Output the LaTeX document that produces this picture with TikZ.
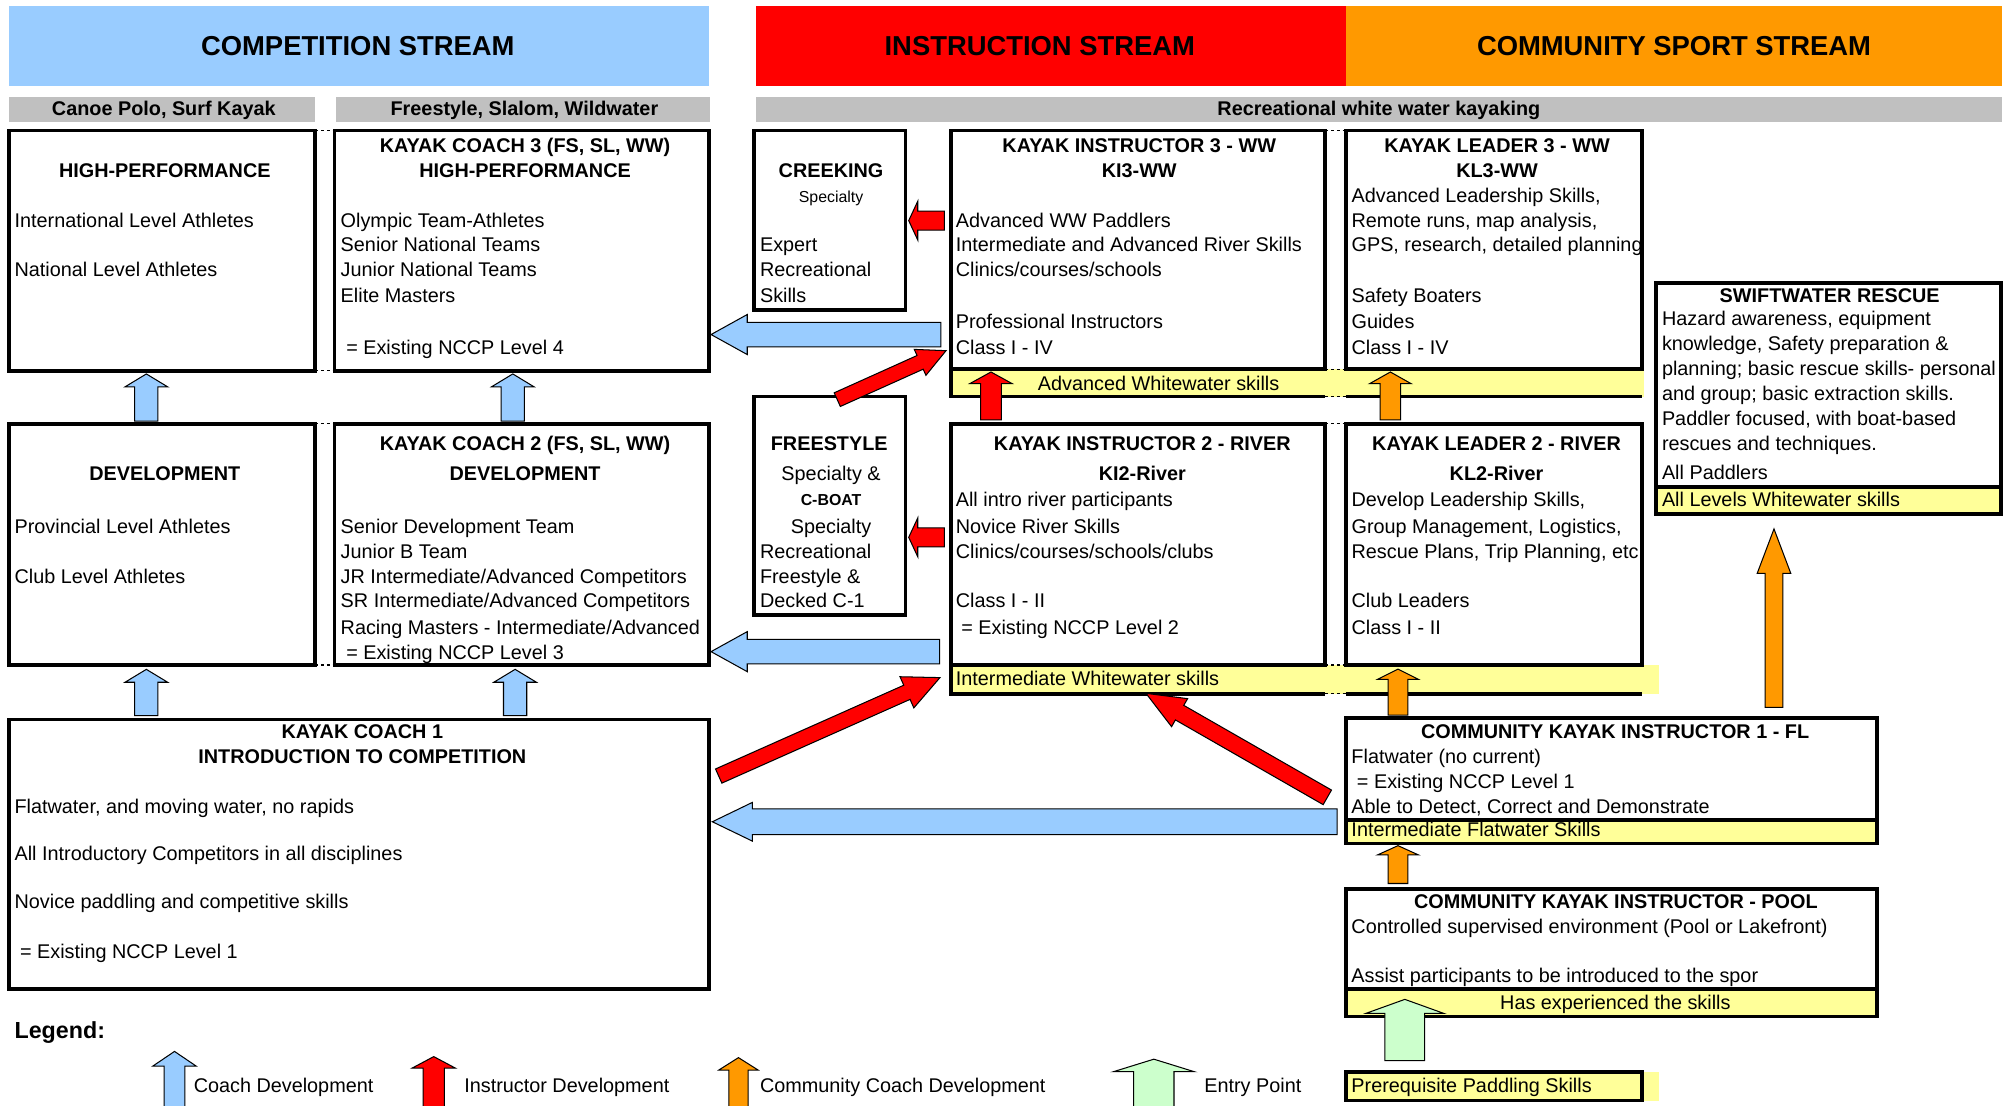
\documentclass[tikz,border=0pt]{standalone}
\usepackage{fontspec}
\setmainfont{Liberation Sans}
\usetikzlibrary{calc}
\definecolor{cblue}{HTML}{99CCFF}
\definecolor{cred}{HTML}{FF0000}
\definecolor{corange}{HTML}{FF9900}
\definecolor{cgrey}{HTML}{C0C0C0}
\definecolor{cyellow}{HTML}{FFFF99}
\definecolor{cgreen}{HTML}{CCFFCC}
\newcommand\fsz{\fontsize{15.35}{19}\selectfont}
\newcommand\fsm{\fontsize{12.3}{14}\selectfont}
\newcommand\fhd{\fontsize{21.2}{25}\selectfont}
\newcommand\flg{\fontsize{18}{22}\selectfont}
\newcommand\barrow[6]{%
  \coordinate (ba) at #2;
  \coordinate (bb) at #3;
  \coordinate (bh) at ($(bb)!#6!(ba)$);
  \filldraw[arrowline, fill=#1]
    ($(ba)!#4!90:(bb)$) -- ($(bh)!#4!90:(bb)$) -- ($(bh)!#5!90:(bb)$) -- (bb)
    -- ($(bh)!#5!-90:(bb)$) -- ($(bh)!#4!-90:(bb)$) -- ($(ba)!#4!-90:(bb)$) -- cycle;
}
\newcommand\tl[4]{\node[txt] (#1) at (#2,#3) {#4};}
\newcommand\tc[4]{\node[ttl] (#1) at (#2,#3) {#4};}
\newcommand\tn[4]{\node[ctx] (#1) at (#2,#3) {#4};}
\tikzset{
  every node/.style={inner sep=0pt, outer sep=0pt},
  txt/.style={font=\fsz, anchor=west, text height=11pt, text depth=0pt},
  ttl/.style={font=\fsz\bfseries, anchor=center, text height=11pt, text depth=0pt},
  ctx/.style={font=\fsz, anchor=center, text height=11pt, text depth=0pt},
  smt/.style={font=\fsm, anchor=center, text height=8.8pt, text depth=0pt},
  smb/.style={font=\fsm\bfseries, anchor=center, text height=8.8pt, text depth=0pt},
  htxt/.style={font=\fhd\bfseries, anchor=center, text height=15.2pt, text depth=0pt},
  area/.style={anchor=north west, draw=none},
  bx/.style={draw, line width=3pt, anchor=north west},
  bline/.style={line width=3pt},
  dotc/.style={line width=1.2pt, dash pattern=on 2.5pt off 2pt},
  arrowline/.style={draw=black, line width=0.8pt, line join=miter},
}
\begin{document}
\begin{tikzpicture}[x=1pt,y=-1pt]
\useasboundingbox (0,0) rectangle (1560,855.5);
% ---------- stream headers ----------
\node[area, fill=cblue, minimum width=542pt, minimum height=62pt] (hcomp) at (7,4.6) {};
\node[area, fill=cred, minimum width=457pt, minimum height=62pt] (hinst) at (585,4.6) {};
\node[area, fill=corange, minimum width=508pt, minimum height=62pt] (hcomm) at (1042,4.6) {};
\node[htxt] (thcomp) at (277,35.4) {COMPETITION STREAM};
\node[htxt] (thinst) at (805,35.4) {INSTRUCTION STREAM};
\node[htxt] (thcomm) at (1296,35.4) {COMMUNITY SPORT STREAM};
\node[area, fill=cgrey, minimum width=237pt, minimum height=19.4pt] (gcp) at (7,74.8) {};
\node[area, fill=cgrey, minimum width=289.7pt, minimum height=19.4pt] (gfs) at (260,74.8) {};
\node[area, fill=cgrey, minimum width=965pt, minimum height=19.4pt] (grec) at (585,74.8) {};
\tc{tgcp}{126.8}{84}{Canoe Polo, Surf Kayak}
\tc{tgfs}{406}{84}{Freestyle, Slalom, Wildwater}
\tc{tgrec}{1067.5}{84}{Recreational white water kayaking}
% ---------- yellow bands ----------
\node[area, fill=cyellow, minimum width=537pt, minimum height=21pt] (advband) at (736,286) {};
\node[area, fill=cyellow, minimum width=548pt, minimum height=22pt] (intband) at (736,515) {};
\node[area, fill=cyellow, minimum width=267pt, minimum height=20.7pt] (swband) at (1282,377.3) {};
\node[area, fill=cyellow, minimum width=411pt, minimum height=18pt] (flband) at (1042,635) {};
\node[area, fill=cyellow, minimum width=411pt, minimum height=21pt] (poolband) at (1042,766) {};
\node[area, fill=cyellow, minimum width=242pt, minimum height=22pt] (preband) at (1042,830) {};
% ---------- boxes ----------
\node[bx, minimum width=237pt, minimum height=186pt] (hp) at (7,101) {};
\node[bx, minimum width=290pt, minimum height=186pt] (kc3) at (259,101) {};
\node[bx, minimum width=117pt, minimum height=139pt] (cr) at (584,101) {};
\node[bx, minimum width=290pt, minimum height=185pt] (ki3) at (736,101) {};
\node[bx, minimum width=229pt, minimum height=185pt] (kl3) at (1042,101) {};
\node[bx, minimum width=267pt, minimum height=179pt] (sw) at (1282,219) {};
\node[bx, minimum width=237pt, minimum height=187pt] (dev) at (7,328) {};
\node[bx, minimum width=290pt, minimum height=187pt] (kc2) at (259,328) {};
\node[bx, minimum width=117pt, minimum height=169pt] (fs) at (584,307) {};
\node[bx, minimum width=290pt, minimum height=187pt] (ki2) at (736,328) {};
\node[bx, minimum width=229pt, minimum height=187pt] (kl2) at (1042,328) {};
\node[bx, minimum width=542pt, minimum height=209pt] (kc1) at (7,557) {};
\node[bx, minimum width=411pt, minimum height=97pt] (cki1) at (1042,556) {};
\node[bx, minimum width=411pt, minimum height=99pt] (pool) at (1042,688) {};
\node[bx, minimum width=229pt, minimum height=22pt] (pre) at (1042,830) {};
% band borders
\draw[bline] (ki3.south west) -- (advband.south west) -- (ki3.south east |- advband.south);
\draw[bline] (kl3.south west |- advband.south) -- (kl3.south east |- advband.south);
\draw[bline] (ki2.south west) -- (intband.south west) -- (ki2.south east |- intband.south);
\draw[bline] (kl2.south west |- intband.south) -- (kl2.south east |- intband.south);
\draw[bline] (swband.north west) -- (swband.north east);
\draw[bline] (flband.north west) -- (flband.north east);
\draw[bline] (poolband.north west) -- (poolband.north east);
% dotted joins between neighbouring boxes
\draw[dotc] (hp.north east) -- (kc3.north west);
\draw[dotc] (hp.south east) -- (kc3.south west);
\draw[dotc] (dev.north east) -- (kc2.north west);
\draw[dotc] (dev.south east) -- (kc2.south west);
\draw[dotc] (ki3.north east) -- (kl3.north west);
\draw[dotc] (ki3.south east) -- (kl3.south west);
\draw[dotc] (ki3.south east |- advband.south) -- (kl3.south west |- advband.south);
\draw[dotc] (ki2.north east) -- (kl2.north west);
\draw[dotc] (ki2.south east) -- (kl2.south west);
\draw[dotc] (ki2.south east |- intband.south) -- (kl2.south west |- intband.south);
% ---------- texts row 1 ----------
\tc{hp1}{127.6}{131.6}{HIGH-PERFORMANCE}
\tl{hp2}{11.3}{170.5}{International Level Athletes}
\tl{hp3}{11.3}{208.5}{National Level Athletes}
\tc{kc3a}{406.5}{112.5}{KAYAK COACH 3 (FS, SL, WW)}
\tc{kc3b}{406.5}{131.6}{HIGH-PERFORMANCE}
\tl{kc3c}{263.8}{170.5}{Olympic Team-Athletes}
\tl{kc3d}{263.8}{189.2}{Senior National Teams}
\tl{kc3e}{263.8}{208.5}{Junior National Teams}
\tl{kc3f}{263.8}{228.4}{Elite Masters}
\tl{kc3g}{263.8}{269}{\ = Existing NCCP Level 4}
\tc{cr1}{643.4}{131.6}{CREEKING}
\node[smt] (cr2) at (643.4,152.3) {Specialty};
\tl{cr3}{588.4}{189.2}{Expert}
\tl{cr4}{588.4}{208.5}{Recreational}
\tl{cr5}{588.4}{228.4}{Skills}
\tc{ki3a}{882}{112.5}{KAYAK INSTRUCTOR 3 - WW}
\tc{ki3b}{882}{131.6}{KI3-WW}
\tl{ki3c}{740}{170.5}{Advanced WW Paddlers}
\tl{ki3d}{740}{189.2}{Intermediate and Advanced River Skills}
\tl{ki3e}{740}{208.5}{Clinics/courses/schools}
\tl{ki3f}{740}{249}{Professional Instructors}
\tl{ki3g}{740}{269}{Class I - IV}
\tc{kl3a}{1159}{112.5}{KAYAK LEADER 3 - WW}
\tc{kl3b}{1159}{131.6}{KL3-WW}
\tl{kl3c}{1046.4}{151}{Advanced Leadership Skills,}
\tl{kl3d}{1046.4}{170.5}{Remote runs, map analysis,}
\tl{kl3e}{1046.4}{189.2}{GPS, research, detailed planning}
\tl{kl3f}{1046.4}{228.4}{Safety Boaters}
\tl{kl3g}{1046.4}{249}{Guides}
\tl{kl3h}{1046.4}{269}{Class I - IV}
\tn{advt}{897}{296.8}{Advanced Whitewater skills}
% swiftwater
\tc{sw1}{1416.5}{228.4}{SWIFTWATER RESCUE}
\tl{sw2}{1286.7}{246.4}{Hazard awareness, equipment}
\tl{sw3}{1286.7}{265.8}{knowledge, Safety preparation \&}
\tl{sw4}{1286.7}{285.2}{planning; basic rescue skills- personal}
\tl{sw5}{1286.7}{304.5}{and group; basic extraction skills.}
\tl{sw6}{1286.7}{323.9}{Paddler focused, with boat-based}
\tl{sw7}{1286.7}{343.2}{rescues and techniques.}
\tl{sw8}{1286.7}{365.9}{All Paddlers}
\tl{sw9}{1286.7}{386.6}{All Levels Whitewater skills}
% ---------- texts row 2 ----------
\tc{dev1}{127.6}{366.4}{DEVELOPMENT}
\tl{dev2}{11.3}{407.5}{Provincial Level Athletes}
\tl{dev3}{11.3}{446.4}{Club Level Athletes}
\tc{kc2a}{406.5}{343.2}{KAYAK COACH 2 (FS, SL, WW)}
\tc{kc2b}{406.5}{366.4}{DEVELOPMENT}
\tl{kc2c}{263.8}{407.5}{Senior Development Team}
\tl{kc2d}{263.8}{426.8}{Junior B Team}
\tl{kc2e}{263.8}{446.4}{JR Intermediate/Advanced Competitors}
\tl{kc2f}{263.8}{464.5}{SR Intermediate/Advanced Competitors}
\tl{kc2g}{263.8}{485.9}{Racing Masters - Intermediate/Advanced}
\tl{kc2h}{263.8}{505}{\ = Existing NCCP Level 3}
\tc{fs1}{642}{343.2}{FREESTYLE}
\tn{fs2}{643.4}{366.4}{Specialty \&}
\node[smb] (fs3) at (643.4,387.1) {C-BOAT};
\tn{fs4}{643.4}{407.5}{Specialty}
\tl{fs5}{588.4}{426.8}{Recreational}
\tl{fs6}{588.4}{446.4}{Freestyle \&}
\tl{fs7}{588.4}{464.5}{Decked C-1}
\tc{ki2a}{884.4}{343.2}{KAYAK INSTRUCTOR 2 - RIVER}
\tc{ki2b}{884.4}{366.4}{KI2-River}
\tl{ki2c}{740}{386.6}{All intro river participants}
\tl{ki2d}{740}{407.5}{Novice River Skills}
\tl{ki2e}{740}{426.8}{Clinics/courses/schools/clubs}
\tl{ki2f}{740}{464.5}{Class I - II}
\tl{ki2g}{740}{485.9}{\ = Existing NCCP Level 2}
\tc{kl2a}{1158.6}{343.2}{KAYAK LEADER 2 - RIVER}
\tc{kl2b}{1158.6}{366.4}{KL2-River}
\tl{kl2c}{1046.4}{386.6}{Develop Leadership Skills,}
\tl{kl2d}{1046.4}{407.5}{Group Management, Logistics,}
\tl{kl2e}{1046.4}{426.8}{Rescue Plans, Trip Planning, etc.}
\tl{kl2f}{1046.4}{464.5}{Club Leaders}
\tl{kl2g}{1046.4}{485.9}{Class I - II}
\tl{intt}{740}{525.1}{Intermediate Whitewater skills}
% ---------- texts row 3 ----------
\tc{kc1a}{280.5}{566.4}{KAYAK COACH 1}
\tc{kc1b}{280.5}{585.3}{INTRODUCTION TO COMPETITION}
\tl{kc1c}{11.3}{624}{Flatwater, and moving water, no rapids}
\tl{kc1d}{11.3}{660.6}{All Introductory Competitors in all disciplines}
\tl{kc1e}{11.3}{698.1}{Novice paddling and competitive skills}
\tl{kc1f}{11.3}{736.8}{\ = Existing NCCP Level 1}
\tc{ck1a}{1250.4}{566.4}{COMMUNITY KAYAK INSTRUCTOR 1 - FL}
\tl{ck1b}{1046.3}{585.8}{Flatwater (no current)}
\tl{ck1c}{1046.3}{605.2}{\ = Existing NCCP Level 1}
\tl{ck1d}{1046.3}{624}{Able to Detect, Correct and Demonstrate}
\tl{ck1e}{1046.3}{642}{Intermediate Flatwater Skills}
\tc{pla}{1251}{698.1}{COMMUNITY KAYAK INSTRUCTOR - POOL}
\tl{plb}{1046.3}{717.4}{Controlled supervised environment (Pool or Lakefront)}
\tl{plc}{1046.3}{755.3}{Assist participants to be introduced to the spor}
\tn{pld}{1250.6}{776.3}{Has experienced the skills}
\tl{pret}{1046.3}{840.5}{Prerequisite Paddling Skills}
% ---------- legend ----------
\node[font=\flg\bfseries, anchor=west, text height=12.9pt, text depth=0pt] (lgd) at (11.3,797.5) {Legend:};
\tl{lg1}{150}{840.5}{Coach Development}
\tl{lg2}{359.5}{840.5}{Instructor Development}
\tl{lg3}{588.4}{840.5}{Community Coach Development}
\tl{lg4}{932.4}{840.5}{Entry Point}
% ---------- coach development arrows ----------
\barrow{cblue}{($(dev.north west)+({113.3-7},{326-328})$)}{($(hp.south west)+({113.3-7},{289.5-287})$)}{9pt}{16.5pt}{10pt}
\barrow{cblue}{($(kc2.north west)+({397-259},{326-328})$)}{($(kc3.south west)+({397-259},{289.5-287})$)}{9pt}{16.5pt}{10pt}
\barrow{cblue}{($(kc1.north west)+({113.3-7},{554-557})$)}{($(dev.south west)+({113.3-7},{518.2-515})$)}{9pt}{16.5pt}{10pt}
\barrow{cblue}{($(kc1.north west)+({398.8-7},{554-557})$)}{($(kc2.south west)+({398.8-259},{518.2-515})$)}{9pt}{16.5pt}{10pt}
\barrow{cblue}{($(ki3.north west)+({728.4-736},{259-101})$)}{($(kc3.north east)+({550.5-549},{259-101})$)}{9.5pt}{15.5pt}{28pt}
\barrow{cblue}{($(ki2.north west)+({727.5-736},{504.5-328})$)}{($(kc2.north east)+({550.5-549},{504.5-328})$)}{9.5pt}{15.5pt}{28pt}
\barrow{cblue}{($(cki1.north west)+({1035.2-1042},{636.2-556})$)}{($(kc1.north east)+({551.5-549},{636.2-557})$)}{10pt}{15pt}{31pt}
% ---------- instructor development arrows ----------
\barrow{cred}{($(ki3.north west)+({731.2-736},{170.8-101})$)}{($(cr.north east)+({703.5-701},{170.8-101})$)}{7.4pt}{15pt}{7pt}
\barrow{cred}{($(ki2.north west)+({731.2-736},{416-328})$)}{($(fs.north east)+({703.5-701},{416-307})$)}{7.4pt}{15pt}{7pt}
\barrow{cred}{($(ki2.north west)+({767.2-736},{325-328})$)}{($(ki3.south west)+({767.2-736},{288-286})$)}{8.1pt}{16.4pt}{9pt}
\barrow{cred}{($(fs.north west)+({648.2-584},{309.4-307})$)}{($(ki3.south west)+({732.4-736},{271.5-286})$)}{5.8pt}{11pt}{22pt}
\barrow{cred}{($(kc1.north east)+({556.4-549},{600.8-557})$)}{($(ki2.south west)+({727.7-736},{524.6-515})$)}{6pt}{13.2pt}{28pt}
\barrow{cred}{($(cki1.north west)+({1027.6-1042},{617.3-556})$)}{($(ki2.south west)+({887.2-736},{536.8-515})$)}{6.5pt}{12.5pt}{30pt}
% ---------- community arrows ----------
\barrow{corange}{($(kl2.north west)+({1076.4-1042},{325-328})$)}{($(kl3.south west)+({1076.4-1042},{288-286})$)}{8pt}{16pt}{9pt}
\barrow{corange}{($(cki1.north west)+({1082.3-1042},{553.6-556})$)}{($(kl2.south west)+({1082.3-1042},{518-515})$)}{7.6pt}{15.9pt}{8pt}
\barrow{corange}{($(pool.north west)+({1082.3-1042},{684-688})$)}{($(cki1.south west)+({1082.3-1042},{654.7-653})$)}{7.6pt}{15.9pt}{7.2pt}
\barrow{corange}{($(cki1.north west)+({1373.4-1042},{547.6-556})$)}{($(sw.south west)+({1373.4-1282},{409.5-398})$)}{6.8pt}{13pt}{34.4pt}
\barrow{cgreen}{($(pre.north west)+({1087.6-1042},{821.2-830})$)}{($(pool.south west)+({1087.6-1042},{773.7-787})$)}{15.4pt}{30pt}{10.8pt}
% ---------- legend arrows ----------
\coordinate (l1s) at (135.1,858); \coordinate (l1e) at (135.1,814);
\coordinate (l2s) at (335.8,858); \coordinate (l2e) at (335.8,818);
\coordinate (l3s) at (571.7,858); \coordinate (l3e) at (571.7,818.8);
\coordinate (l4s) at (893.3,858); \coordinate (l4e) at (893.3,820);
\barrow{cblue}{(l1s)}{(l1e)}{8.1pt}{16.7pt}{11.3pt}
\barrow{cred}{(l2s)}{(l2e)}{8.2pt}{16.9pt}{9pt}
\barrow{corange}{(l3s)}{(l3e)}{7.5pt}{15.2pt}{9.6pt}
\barrow{cgreen}{(l4s)}{(l4e)}{15.6pt}{31.3pt}{9.7pt}
\end{tikzpicture}
\end{document}
